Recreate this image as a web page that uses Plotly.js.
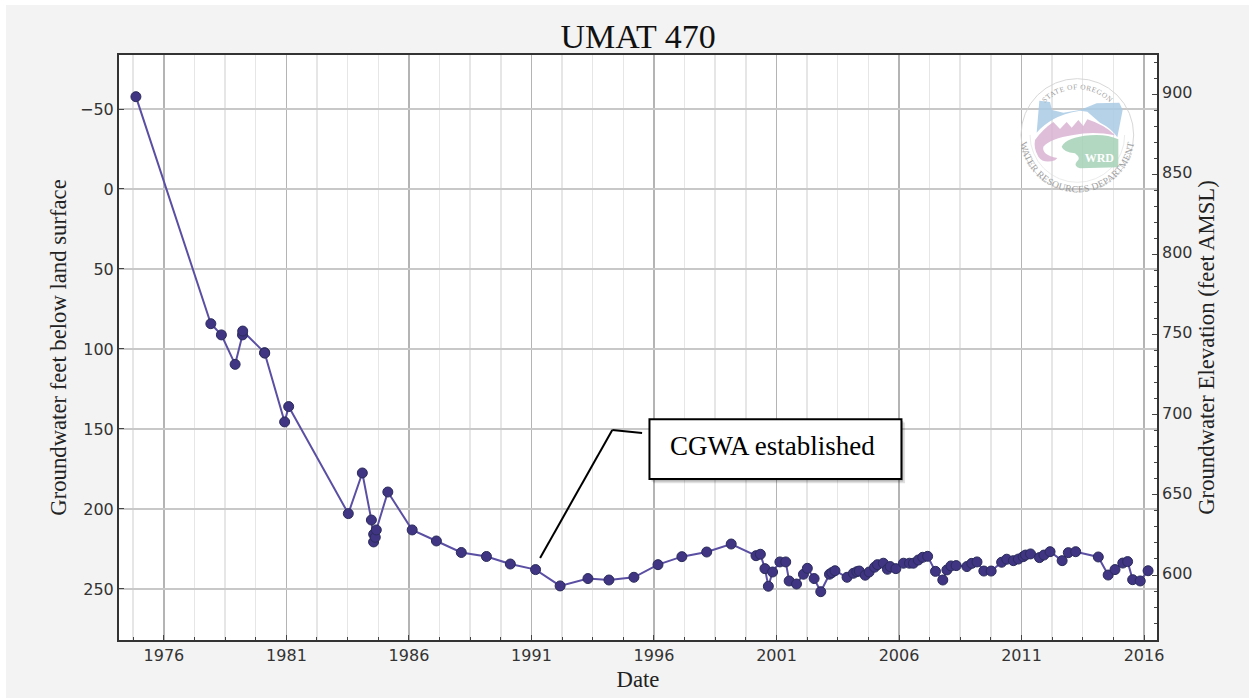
<!DOCTYPE html>
<html>
<head>
<meta charset="utf-8">
<script src="https://cdn.plot.ly/plotly-3.0.1.min.js"></script>
<style>
html,body{margin:0;padding:0;background:#fff;width:1249px;height:698px;overflow:hidden}
#chart{position:absolute;left:6px;top:5px;width:1243px;height:693px}
#logo{position:absolute;left:1000px;top:60px;width:160px;height:150px;pointer-events:none;opacity:.85}
</style>
</head>
<body>
<div id="chart"></div>
<svg id="logo" viewBox="0 0 480 450">
  <defs>
    <path id="arcTop" d="M95,225 A137,137 0 0 1 369,225"/>
    <path id="arcBottom" d="M60,225 A172,172 0 0 0 404,225"/>
  </defs>
  <circle cx="232" cy="225" r="169" fill="none" stroke="#d2d2d2" stroke-width="3"/>
  <path d="M90,225 A142,142 0 0 0 374,225" fill="none" stroke="#dcdcdc" stroke-width="2"/>
  <path fill="#a9cbe6" d="M118,122 L150,126 L156,150 L190,158 L240,150 L290,130 L358,128 L368,150 L352,232 Q335,205 300,188 L262,155 L240,152 Q190,160 160,178 Q130,195 110,218 Z"/>
  <path fill="#d9b3d3" d="M105,240 Q128,208 160,186 L180,207 L200,186 L215,203 L235,180 L250,198 L262,178 Q315,195 345,226 Q280,212 220,225 Q150,236 130,260 Q125,285 172,294 L165,301 Q130,312 115,290 Q100,265 105,240 Z"/>
  <path fill="#a5d2b8" d="M185,260 Q200,232 270,226 Q320,222 355,238 L355,322 L240,325 Q220,318 230,305 Q245,295 225,280 Q190,275 185,260 Z"/>
  <text x="298" y="305" text-anchor="middle" font-family="Liberation Serif" font-weight="bold" font-size="36" fill="#fff">WRD</text>
  <text font-family="Liberation Serif" font-size="22" fill="#8f8f8f" letter-spacing="1.5"><textPath href="#arcTop" startOffset="50%" text-anchor="middle">STATE OF OREGON</textPath></text>
  <text font-family="Liberation Serif" font-size="29" fill="#8f8f8f" letter-spacing="1"><textPath href="#arcBottom" startOffset="50%" text-anchor="middle">WATER RESOURCES DEPARTMENT</textPath></text>
</svg>
<script>
const chartTitle = 'UMAT 470';
const xTitle = 'Date';
const yLeftTitle = 'Groundwater feet below land surface';
const yRightTitle = 'Groundwater Elevation (feet AMSL)';
const calloutText = 'CGWA established';

const dates = [
 '1974-11-10','1977-12-01','1978-05-07','1978-11-28','1979-03-18','1979-03-21','1980-02-10','1980-02-12',
 '1980-12-05','1981-02-03','1983-07-12','1984-02-06','1984-06-20','1984-07-23','1984-07-24','1984-08-17',
 '1984-09-01','1985-02-20','1986-02-18','1987-02-14','1988-02-20','1989-03-01','1990-02-20','1991-03-03',
 '1992-03-03','1993-04-22','1994-03-01','1995-03-08','1996-03-01','1997-02-20','1998-02-25','1999-02-25',
 '2000-03-01','2000-05-05','2000-07-12','2000-09-01','2000-11-03','2001-02-20','2001-05-18','2001-07-08',
 '2001-10-26','2002-02-06','2002-04-05','2002-07-15','2002-10-22','2003-03-01','2003-04-05','2003-05-22',
 '2003-11-18','2004-02-20','2004-04-12','2004-05-18','2004-08-15','2004-10-12','2005-01-01','2005-02-14',
 '2005-05-12','2005-07-12','2005-08-22','2005-11-15','2006-03-08','2006-06-05','2006-08-03','2006-10-15',
 '2006-12-20','2007-03-03','2007-06-28','2007-10-15','2007-12-15','2008-02-14','2008-05-01','2008-10-08',
 '2008-12-20','2009-03-08','2009-06-18','2009-10-05','2010-03-10','2010-05-25','2010-09-01','2010-11-15',
 '2011-01-25','2011-03-01','2011-05-15','2011-09-25','2011-12-01','2012-03-01','2012-08-28','2012-11-28',
 '2013-03-18','2014-02-18','2014-07-15','2014-10-25','2015-02-18','2015-05-01','2015-07-15','2015-11-05','2016-03-01'
];
const depthFeet = [
 -57.7,84.2,91.2,109.6,91.2,88.8,102.3,102.6,
 145.6,136,202.9,177.5,206.9,220.6,215.8,217.7,
 213.1,189.4,213.1,220,227.2,229.7,234.4,237.9,
 248.1,243.5,244.4,242.7,234.8,229.8,226.9,221.9,
 229.2,228.3,237.3,248.3,239.4,233.1,233.1,245,
 246.9,240.8,237.1,243.5,251.7,240.8,239.8,238.6,
 242.7,240.2,239.2,238.8,241.4,239.4,236.4,234.8,
 233.9,237.7,236,237.3,233.9,233.9,233.9,231.9,
 230.2,229.6,239,244.4,238.1,235.6,235.4,236,
 234,233.1,238.8,238.8,233.3,231.4,232.3,231.3,
 229.8,228.8,228.1,230.4,228.8,226.7,232.3,227.3,
 226.7,230,241.3,237.9,233.8,232.9,244.2,245,238.6
];

const serif = '"Liberation Serif","Times New Roman",serif';
const sans = '"DejaVu Sans",sans-serif';
const tickFont = {family: sans, size: 16, color: '#333'};
const titleFont = {family: serif, size: 22.7, color: '#222'};

const traces = [
 {x: dates, y: depthFeet, type: 'scatter', mode: 'lines+markers', showlegend: false, cliponaxis: false,
  line: {color: '#5a4fa3', width: 2},
  marker: {color: '#3f3583', size: 10, line: {color: '#2c2c5c', width: 1}}},
 {x: [], y: [], type: 'scatter', yaxis: 'y2', showlegend: false, hoverinfo: 'skip'}
];

const layout = {
 width: 1243, height: 693,
 paper_bgcolor: '#f3f3f3', plot_bgcolor: '#ffffff',
 margin: {l: 113, r: 92, t: 50, b: 58},
 showlegend: false,
 title: {text: chartTitle, font: {family: serif, size: 34, color: '#111'}, x: 0.5085, xanchor: 'center', y: 0.955, yanchor: 'middle'},
 xaxis: {
  type: 'date', range: ['1974-03-03', '2016-07-12'],
  tick0: '1976-01-01', dtick: 'M60', tickformat: '%Y',
  ticks: 'inside', ticklen: 5, tickcolor: '#444', tickfont: tickFont,
  showgrid: true, gridcolor: '#b4b4b4', gridwidth: 1.5, zeroline: false,
  showline: true, linecolor: '#333', linewidth: 2, mirror: true,
  minor: {dtick: 'M15', tick0: '1976-01-01', showgrid: true, gridcolor: '#e6e6e6', gridwidth: 1.5, ticks: 'inside', ticklen: 3, tickcolor: '#444'},
  title: {text: xTitle, font: titleFont, standoff: 7}
 },
 yaxis: {
  range: [281.9, -83.75], tick0: 0, dtick: 50,
  ticks: 'inside', ticklen: 5, tickcolor: '#444', tickfont: tickFont,
  showgrid: true, gridcolor: '#c8c8c8', gridwidth: 1.5, zeroline: false,
  showline: true, linecolor: '#333', linewidth: 2, mirror: true,
  title: {text: yLeftTitle, font: titleFont, standoff: 7}
 },
 yaxis2: {
  overlaying: 'y', side: 'right', range: [559.4, 924.8], tick0: 0, dtick: 50,
  ticks: 'inside', ticklen: 5, tickcolor: '#444', tickfont: tickFont,
  ticklabelstandoff: 4, ticklabelshift: -2,
  showgrid: false, zeroline: false,
  minor: {dtick: 10, ticks: 'inside', ticklen: 3, tickcolor: '#444', showgrid: false},
  title: {text: yRightTitle, font: titleFont, standoff: 6}
 },
 shapes: [
  {type: 'rect', xref: 'x', yref: 'y', x0: '1995-12-20', x1: '2006-04-01', y0: 146, y1: 184, fillcolor: 'rgba(0,0,0,0.12)', line: {width: 0}, layer: 'above'},
  {type: 'rect', xref: 'x', yref: 'y', x0: '1995-11-25', x1: '2006-03-05', y0: 145, y1: 182.8, fillcolor: 'rgba(0,0,0,0.18)', line: {width: 0}, layer: 'above'},
  {type: 'rect', xref: 'x', yref: 'y', x0: '1995-10-26', x1: '2006-02-06', y0: 143.9, y1: 181.25, fillcolor: '#fff', line: {color: '#000', width: 2}, layer: 'above'},
  {type: 'line', xref: 'x', yref: 'y', x0: '1991-05-10', y0: 230.6, x1: '1994-04-20', y1: 150.6, line: {color: '#000', width: 2}, layer: 'above'},
  {type: 'line', xref: 'x', yref: 'y', x0: '1994-04-20', y0: 150.6, x1: '1995-07-08', y1: 152.5, line: {color: '#000', width: 2}, layer: 'above'}
 ],
 annotations: [
  {x: '2000-10-27', y: 160.6, xref: 'x', yref: 'y', text: calloutText, showarrow: false, xanchor: 'center', yanchor: 'middle', font: {family: serif, size: 27, color: '#000'}}
 ]
};
Plotly.newPlot('chart', traces, layout, {displayModeBar: false, staticPlot: true});
</script>
</body>
</html>
